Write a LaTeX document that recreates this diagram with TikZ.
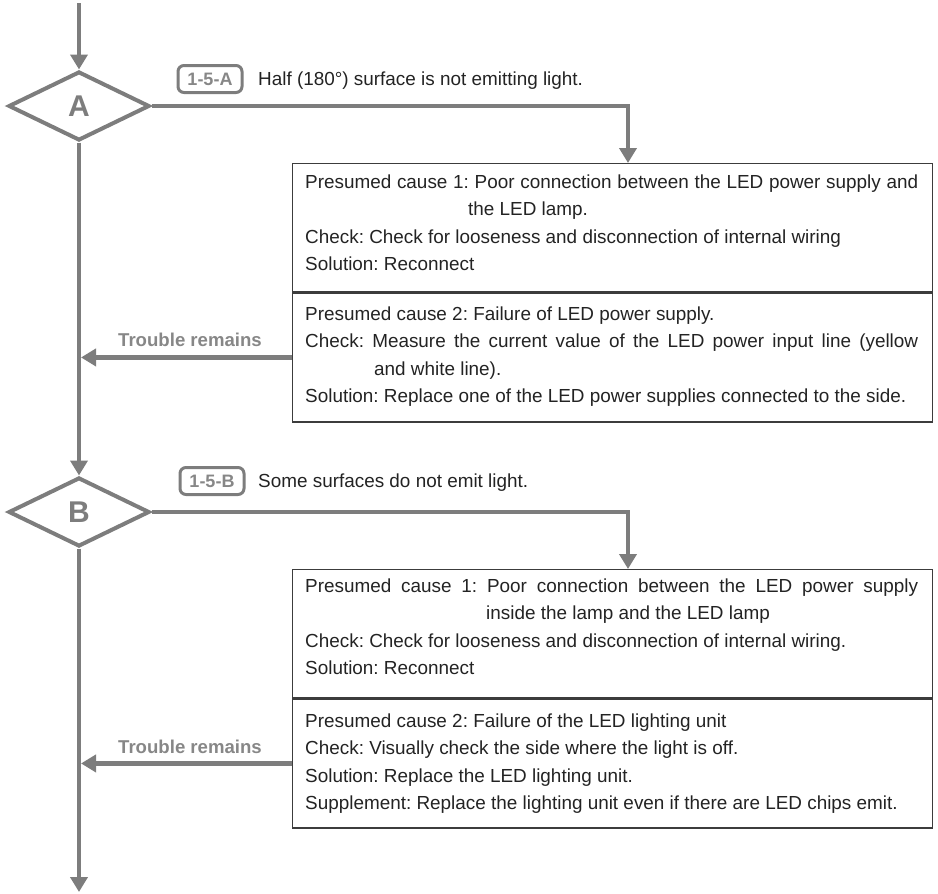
\documentclass[tikz,border=0pt]{standalone}
\usepackage{fontspec}
\setmainfont{Liberation Sans}
\usetikzlibrary{arrows.meta,shapes.geometric}
\definecolor{lg}{RGB}{125,125,125}
\definecolor{lbl}{RGB}{135,135,135}
\definecolor{bx}{RGB}{60,60,60}
\definecolor{tx}{RGB}{35,35,35}
\frenchspacing
\begin{document}
\begin{tikzpicture}[x=1pt,y=-1pt,
 conn/.style={draw=lg,line width=4.5pt},
 arr/.style={conn,-{Triangle[width=17pt,length=15pt]}},
 dec/.style={diamond,draw=lg,line width=4pt,minimum width=141pt,minimum height=69pt,inner sep=0pt,text=lg,font=\fontsize{30}{30}\selectfont\bfseries},
 tag/.style={draw=lg,line width=3pt,rounded corners=6pt,minimum width=64pt,minimum height=27pt,inner sep=0pt,text=lbl,font=\fontsize{18}{18}\selectfont\bfseries},
 cbox/.style={draw=bx,line width=1.3pt,minimum width=640pt,inner sep=0pt,anchor=north west},
 ln/.style={anchor=base west,inner sep=0pt,text=tx,font=\fontsize{18.9}{22}\selectfont},
 trb/.style={text=lbl,font=\fontsize{18.6}{22}\selectfont\bfseries,inner sep=0pt}
]
\useasboundingbox (0,0) rectangle (938,894);

% decisions
\node[dec] (A) at (79,106) {A};
\node[dec] (B) at (79,512) {B};

% tags and headings
\node[tag] (tagA) at (210,79) {1-5-A};
\node[ln] (hA) at (258,85.5) {Half (180°) surface is not emitting light.};
\node[tag] (tagB) at (212,481) {1-5-B};
\node[ln] (hB) at (258,487.5) {Some surfaces do not emit light.};

% boxes
\node[cbox,minimum height=128pt] (a1) at (292,163) {};
\node[cbox,minimum height=129pt] (a2) at (a1.south west) {};
\node[cbox,minimum height=128pt] (b1) at (292,569) {};
\node[cbox,minimum height=129pt] (b2) at (b1.south west) {};

% box A texts
\node[ln] (a1l1) at (305,188) {\makebox[613pt][s]{Presumed cause 1: Poor connection between the LED power supply and}};
\node[ln] (a1l2) at (468,215.5) {the LED lamp.};
\node[ln] (a1l3) at (305,243) {Check: Check for looseness and disconnection of internal wiring};
\node[ln] (a1l4) at (305,270.5) {Solution: Reconnect};
\node[ln] (a2l1) at (305,320) {Presumed cause 2: Failure of LED power supply.};
\node[ln] (a2l2) at (305,347.5) {\makebox[613pt][s]{Check: Measure the current value of the LED power input line (yellow}};
\node[ln] (a2l3) at (374,375) {and white line).};
\node[ln] (a2l4) at (305,402.5) {Solution: Replace one of the LED power supplies connected to the side.};

% box B texts
\node[ln] (b1l1) at (305,592) {\makebox[613pt][s]{Presumed cause 1: Poor connection between the LED power supply}};
\node[ln] (b1l2) at (486,619.5) {inside the lamp and the LED lamp};
\node[ln] (b1l3) at (305,647) {Check: Check for looseness and disconnection of internal wiring.};
\node[ln] (b1l4) at (305,674.5) {Solution: Reconnect};
\node[ln] (b2l1) at (305,727) {Presumed cause 2: Failure of the LED lighting unit};
\node[ln] (b2l2) at (305,754.5) {Check: Visually check the side where the light is off.};
\node[ln] (b2l3) at (305,782) {Solution: Replace the LED lighting unit.};
\node[ln] (b2l4) at (305,809.5) {Supplement: Replace the lighting unit even if there are LED chips emit.};

% trouble labels
\node[trb] (tA) at (190,340) {Trouble remains};
\node[trb] (tB) at (190,747) {Trouble remains};

% connectors
\coordinate (top) at (79,3);
\coordinate (bot) at (79,892);
\coordinate (a1in) at (628,163);
\coordinate (b1in) at (628,569);
\draw[arr] (top) -- (A.north);
\draw[arr] (A.south) -- (B.north);
\draw[arr] (B.south) -- (bot);
\draw[arr] (A.east) -| (a1in);
\draw[arr] (B.east) -| (b1in);
\draw[arr,shorten >=2pt] (a2.west) -- (a2.west -| A.south);
\draw[arr,shorten >=2pt] (b2.west) -- (b2.west -| B.south);
\end{tikzpicture}
\end{document}
